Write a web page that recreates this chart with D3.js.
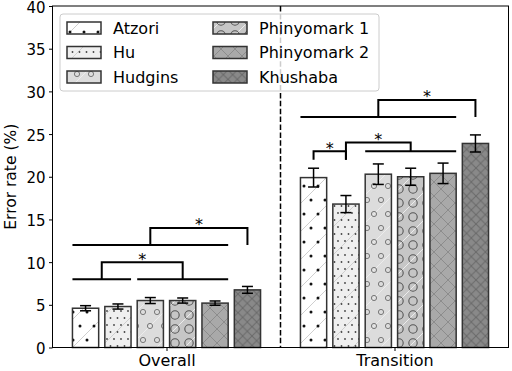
<!DOCTYPE html>
<html>
<head>
<meta charset="utf-8">
<script src="https://cdn.jsdelivr.net/npm/d3@7"></script>
<style>
  body { margin: 0; background: #fff; }
  text { font-family: "DejaVu Sans", sans-serif; }
</style>
</head>
<body>
<div id="container"></div>
<script>
const methods = ["Atzori", "Hu", "Hudgins", "Phinyomark 1", "Phinyomark 2", "Khushaba"];
const conditions = ["Overall", "Transition"];
const overallMean = [4.6, 4.8, 5.5, 5.5, 5.2, 6.75];
const overallErr = [0.3, 0.3, 0.35, 0.3, 0.25, 0.4];
const transitionMean = [19.9, 16.8, 20.3, 20.0, 20.4, 23.9];
const transitionErr = [1.1, 1.0, 1.2, 1.0, 1.2, 1.0];
const yTicks = [0, 5, 10, 15, 20, 25, 30, 35, 40];

// significance brackets: group, bar range on each side, leg bottoms, top
const sigGroup = [0, 0, 1, 1, 1];
const sigLeft = [[0, 1], [0, 4], [0, 4], [0, 0], [1, 1]];
const sigRight = [[2, 4], [5, 5], [5, 5], [1, 1], [2, 4]];
const sigBaseL = [8, 12, 27, 22, 22];
const sigBaseR = [8, 12, 27, 22, 23];
const sigTop = [10, 14, 29, 23, 24];

const means = [overallMean, transitionMean];
const errs = [overallErr, transitionErr];

const width = 512, height = 371;
const barW = 0.115, step = 0.142;

const svg = d3.select("#container").append("svg")
    .attr("width", width)
    .attr("height", height);

const x = d3.scaleLinear().domain([-0.5, 1.5]).range([52.5, 508.5]);
const y = d3.scaleLinear().domain([0, 40]).range([347.5, 6]);

const barX = (g, i) => g + (i - 2.5) * step;

// hatch patterns
const defs = svg.append("defs");
const fills = ["#ffffff", "#efefef", "#dcdcdc", "#c6c6c6", "#a9a9a9", "#898989"];

function diag(p, color) {
    [[0, 28, 28, 0], [-14, 14, 14, -14], [14, 42, 42, 14]].forEach(l => {
        p.append("line").attr("x1", l[0]).attr("y1", l[1]).attr("x2", l[2]).attr("y2", l[3])
            .attr("stroke", color).attr("stroke-width", 1);
    });
}
function wrapPts(pts, t) {
    const out = [];
    pts.forEach(([a, b]) => {
        [-t, 0, t].forEach(dx => [-t, 0, t].forEach(dy => out.push([a + dx, b + dy])));
    });
    return out;
}

methods.forEach((m, i) => {
    const size = i === 4 ? 14 : i === 5 ? 9.333 : 28;
    const p = defs.append("pattern")
        .attr("id", "hatch" + i)
        .attr("patternUnits", "userSpaceOnUse")
        .attr("width", size)
        .attr("height", size);
    p.append("rect").attr("width", size).attr("height", size).attr("fill", fills[i]);

    if (i <= 3) diag(p, i < 2 ? "#cfcfcf" : "#ececec");

    if (i === 0) {
        wrapPts([[0, 0], [14, 0], [7, 14], [21, 14]], 28).forEach(([a, b]) => {
            p.append("circle").attr("cx", a + 3).attr("cy", b + 4).attr("r", 1.5).attr("fill", "#111");
        });
    } else if (i === 1) {
        const pts = [];
        for (let r = 0; r < 4; r++) for (let c = 0; c < 4; c++) pts.push([c * 7 + (r % 2) * 3.5, r * 7]);
        wrapPts(pts, 28).forEach(([a, b]) => {
            p.append("circle").attr("cx", a + 2).attr("cy", b + 3).attr("r", 0.9).attr("fill", "#444");
        });
    } else if (i === 2) {
        wrapPts([[0, 0], [14, 0], [7, 14], [21, 14]], 28).forEach(([a, b]) => {
            p.append("circle").attr("cx", a + 3).attr("cy", b + 4).attr("r", 2.6)
                .attr("fill", "none").attr("stroke", "#777").attr("stroke-width", 1);
        });
    } else if (i === 3) {
        wrapPts([[0, 0], [14, 0], [0, 14], [14, 14]], 28).forEach(([a, b]) => {
            p.append("circle").attr("cx", a + 7).attr("cy", b + 7).attr("r", 4.2)
                .attr("fill", "none").attr("stroke", "#555").attr("stroke-width", 1.1);
        });
    } else {
        const col = i === 4 ? "#8c8c8c" : "#6a6a6a";
        [[0, 0, size, size], [0, size, size, 0]].forEach(l => {
            p.append("line").attr("x1", l[0]).attr("y1", l[1]).attr("x2", l[2]).attr("y2", l[3])
                .attr("stroke", col).attr("stroke-width", 1);
        });
    }
});

// separator
svg.append("line")
    .attr("x1", x(0.5)).attr("x2", x(0.5))
    .attr("y1", y(40)).attr("y2", y(0))
    .attr("stroke", "#000")
    .attr("stroke-width", 1.5)
    .attr("stroke-dasharray", "5.5,2.4");

// bars
const barData = [];
conditions.forEach((c, g) => {
    methods.forEach((m, i) => barData.push({ g, i, v: means[g][i], e: errs[g][i] }));
});

svg.selectAll("rect.bar")
    .data(barData)
  .enter().append("rect")
    .attr("class", "bar")
    .attr("x", d => x(barX(d.g, d.i) - barW / 2))
    .attr("width", x(barW) - x(0))
    .attr("y", d => y(d.v))
    .attr("height", d => y(0) - y(d.v))
    .attr("fill", d => `url(#hatch${d.i})`)
    .attr("stroke", "#333")
    .attr("stroke-width", 1.5);

// error bars
const eb = svg.selectAll("g.err")
    .data(barData)
  .enter().append("g")
    .attr("class", "err")
    .attr("stroke", "#000")
    .attr("stroke-width", 1.5);
eb.append("line")
    .attr("x1", d => x(barX(d.g, d.i))).attr("x2", d => x(barX(d.g, d.i)))
    .attr("y1", d => y(d.v - d.e)).attr("y2", d => y(d.v + d.e));
[-1, 1].forEach(s => {
    eb.append("line")
        .attr("x1", d => x(barX(d.g, d.i)) - 5.5).attr("x2", d => x(barX(d.g, d.i)) + 5.5)
        .attr("y1", d => y(d.v + s * d.e)).attr("y2", d => y(d.v + s * d.e));
});

// significance brackets
const sig = svg.append("g").attr("stroke", "#000").attr("stroke-width", 2).attr("fill", "none");
sigGroup.forEach((g, k) => {
    const sides = [sigLeft[k], sigRight[k]];
    const bases = [sigBaseL[k], sigBaseR[k]];
    const legX = sides.map((r, j) => {
        const a = barX(g, r[0]), b = barX(g, r[1]);
        if (r[1] > r[0]) {
            sig.append("line")
                .attr("x1", x(a - barW / 2)).attr("x2", x(b + barW / 2))
                .attr("y1", y(bases[j])).attr("y2", y(bases[j]));
        }
        return x((a + b) / 2);
    });
    sig.append("path")
        .attr("d", `M${legX[0]},${y(bases[0])}V${y(sigTop[k])}H${legX[1]}V${y(bases[1])}`);
    svg.append("text")
        .attr("x", (legX[0] + legX[1]) / 2)
        .attr("y", y(sigTop[k]) + 2.5)
        .attr("text-anchor", "middle")
        .style("font-size", "16px")
        .text("*");
});

// axes
const yAxis = svg.append("g")
    .attr("transform", `translate(${x(-0.5)},0)`)
    .call(d3.axisLeft(y).tickValues(yTicks).tickSize(3.5).tickPadding(3.5));
const xAxis = svg.append("g")
    .attr("transform", `translate(0,${y(0)})`)
    .call(d3.axisBottom(x).tickValues([0, 1]).tickFormat((d, i) => conditions[i]).tickSize(3.5).tickPadding(3.5));
[yAxis, xAxis].forEach(a => {
    a.select(".domain").remove();
    a.selectAll("line").attr("stroke", "#000").attr("stroke-width", 1);
    a.selectAll("text").attr("fill", "#000")
        .style("font-family", "'DejaVu Sans', sans-serif");
});
yAxis.selectAll("text").style("font-size", "15px").attr("dy", "0.4em");
xAxis.selectAll("text").style("font-size", "16px");

svg.append("rect")
    .attr("x", x(-0.5)).attr("y", y(40))
    .attr("width", x(1.5) - x(-0.5)).attr("height", y(0) - y(40))
    .attr("fill", "none")
    .attr("stroke", "#000")
    .attr("stroke-width", 1);

svg.append("text")
    .attr("transform", `translate(16,${(y(0) + y(40)) / 2}) rotate(-90)`)
    .attr("text-anchor", "middle")
    .style("font-size", "15.5px")
    .text("Error rate (%)");

// legend
const legend = svg.append("g").attr("transform", "translate(60,14)");
legend.append("rect")
    .attr("width", 319).attr("height", 77).attr("rx", 3)
    .attr("fill", "#fff").attr("fill-opacity", 0.8)
    .attr("stroke", "#ccc");
methods.forEach((m, i) => {
    const col = Math.floor(i / 3), row = i % 3;
    const gx = 7 + col * 146, gy = 14 + row * 24.5;
    legend.append("rect")
        .attr("x", gx).attr("y", gy - 6)
        .attr("width", 34).attr("height", 12)
        .attr("fill", `url(#hatch${i})`)
        .attr("stroke", "#333").attr("stroke-width", 1.5);
    legend.append("text")
        .attr("x", gx + 46).attr("y", gy + 5.8)
        .style("font-size", "16px")
        .text(m);
});
</script>
</body>
</html>
